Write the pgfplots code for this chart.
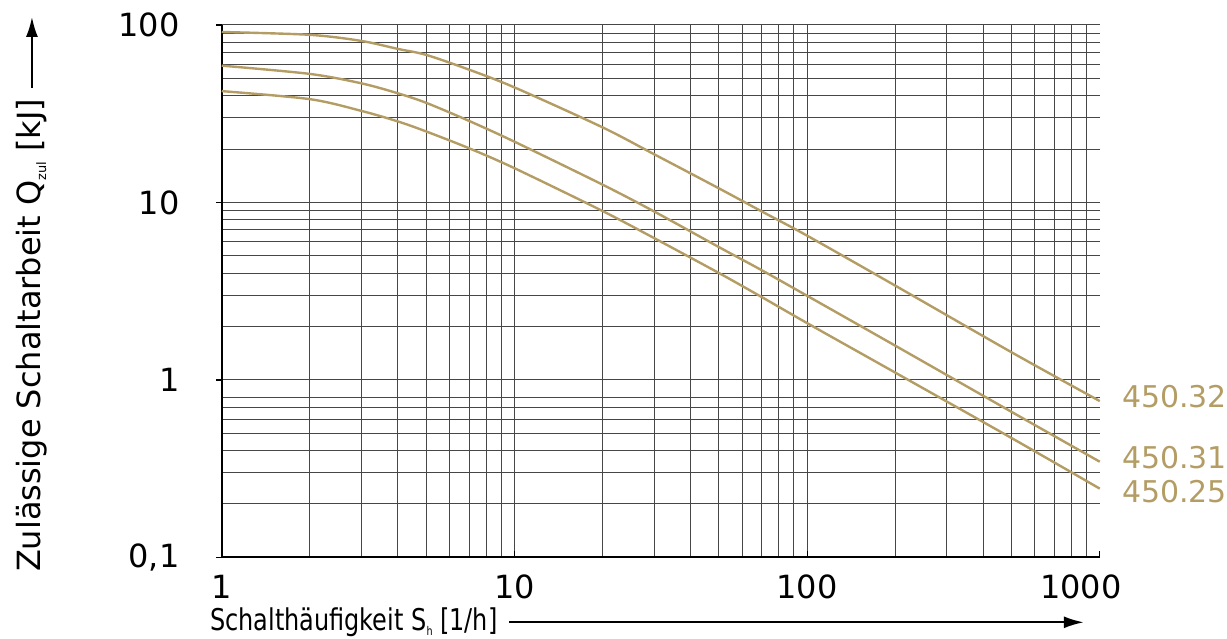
\documentclass[border=0pt]{standalone}
\usepackage{fontspec}
\setmainfont{DejaVu Sans}
\newfontfamily\xlabfont[FakeStretch=0.8]{DejaVu Sans}
\usepackage{pgfplots}
\pgfplotsset{compat=1.18}
\usetikzlibrary{arrows.meta}

\definecolor{kurve}{RGB}{180,157,100}
\definecolor{gitter}{RGB}{70,70,70}

\begin{document}
\begin{tikzpicture}
\begin{axis}[
  name=ax, at={(0,0)}, anchor=south west,
  scale only axis, width=439.5pt, height=266.5pt,
  xmode=log, ymode=log,
  xmin=1, xmax=1000, ymin=0.1, ymax=100,
  axis x line*=bottom, axis y line*=left,
  axis line style={line width=1pt, black, -},
  xtick={1,10,100}, xticklabels={1,10,100},
  extra x ticks={1000}, extra x tick labels={1000},
  extra x tick style={grid=none, xticklabel style={xshift=-9.5pt}},
  minor xtick={2,3,...,9,20,30,...,90,200,300,...,900},
  ytick={0.1,1,10,100}, yticklabels={{0,1},1,10,100},
  minor ytick={0.2,0.3,...,0.9,2,3,...,9,20,30,...,90},
  grid=both,
  major grid style={gitter, line width=0.5pt},
  minor grid style={gitter, line width=0.5pt},
  xtick align=inside, ytick align=outside,
  major tick length=3pt, minor tick length=0pt,
  tick style={black, line width=0.6pt},
  tick label style={font=\fontsize{16}{19}\selectfont},
  xticklabel style={anchor=north, inner sep=0pt, yshift=-8.5pt},
  yticklabel style={anchor=east, inner sep=0pt, xshift=-18pt},
  clip=false,
]
% 450.32
\addplot[kurve, line width=1.2pt, smooth] coordinates {
  (1,91.3) (2,88) (3,81.3) (4,73.3) (5,67.8) (7,56) (10,44.5)
  (20,26.5) (30,18.7) (50,12.0) (70,8.9) (100,6.5)
  (200,3.4) (500,1.43) (1000,0.76)
};
% 450.31
\addplot[kurve, line width=1.2pt, smooth] coordinates {
  (1,59) (2,53) (3,46.9) (4,41.2) (5,36.4) (7,28.8) (10,22.0)
  (20,12.6) (30,8.9) (50,5.6) (70,4.15) (100,2.98)
  (200,1.56) (500,0.66) (1000,0.346)
};
% 450.25
\addplot[kurve, line width=1.2pt, smooth] coordinates {
  (1,42.4) (2,38.2) (3,32.8) (4,28.6) (5,25.1) (7,20.2) (10,15.6)
  (20,8.95) (30,6.3) (50,4.0) (70,2.93) (100,2.09)
  (200,1.10) (500,0.47) (1000,0.244)
};
\node[kurve, anchor=west, inner sep=0pt, xshift=11pt, font=\fontsize{15}{18}\selectfont] at (axis cs:1000,0.806) {450.32};
\node[kurve, anchor=west, inner sep=0pt, xshift=11pt, font=\fontsize{15}{18}\selectfont] at (axis cs:1000,0.366) {450.31};
\node[kurve, anchor=west, inner sep=0pt, xshift=11pt, font=\fontsize{15}{18}\selectfont] at (axis cs:1000,0.235) {450.25};
\end{axis}

% Achsentitel
\node[anchor=base west, inner sep=0pt, font=\xlabfont\fontsize{15}{18}\selectfont]
  at (-6pt,-36.5pt) {Schalthäufigkeit S\raisebox{-0.3ex}{\fontsize{6}{6}\selectfont h} [1/h]};
\draw[line width=1pt, -{Latex[length=10pt, width=6pt]}] (144pt,-32.5pt) -- (431.5pt,-32.5pt);

\node[rotate=90, anchor=base west, inner sep=0pt, font=\fontsize{16}{19}\selectfont]
  at (-90.5pt,-7.5pt) {Zulässige Schaltarbeit Q\raisebox{-0.3ex}{\fontsize{6.5}{6.5}\selectfont zul} [kJ]};
\draw[line width=1pt, -{Latex[length=10pt, width=6pt]}] (-95pt,235pt) -- (-95pt,270.5pt);

\path (-111pt,-40.5pt) rectangle ++(613.5pt,319.5pt);
\end{tikzpicture}
\end{document}
